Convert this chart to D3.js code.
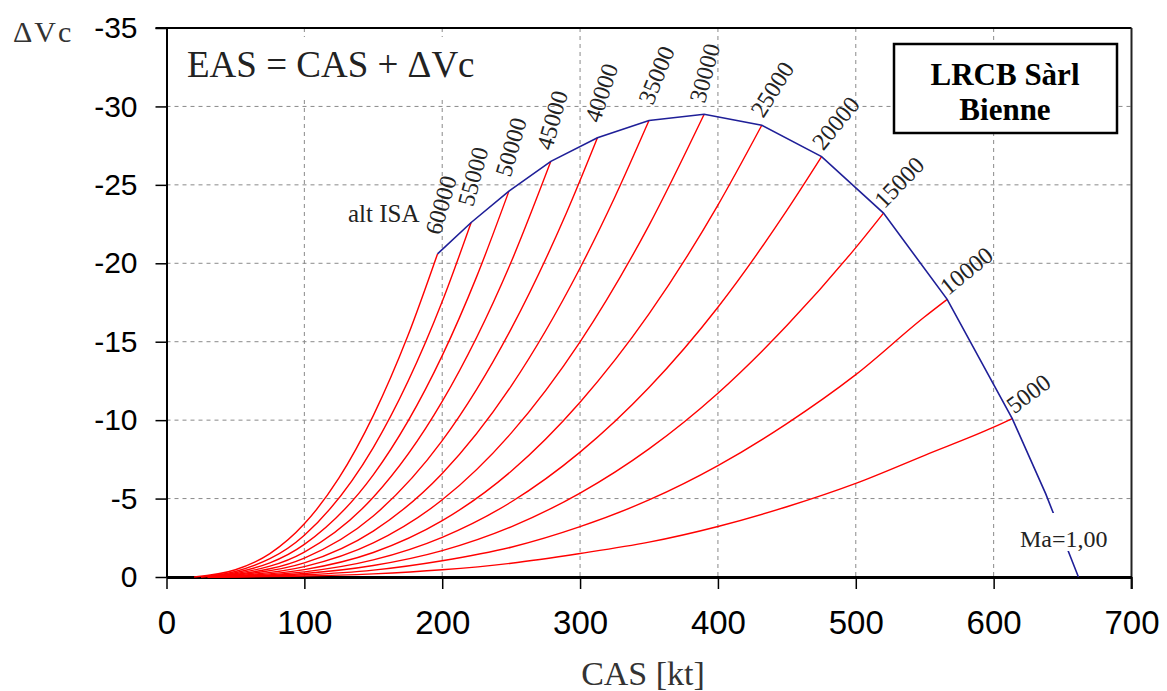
<!DOCTYPE html>
<html>
<head>
<meta charset="utf-8">
<script src="https://cdn.jsdelivr.net/npm/d3@7/dist/d3.min.js"></script>
<style>
  body { margin: 0; background: #fff; }
  svg { display: block; }
</style>
</head>
<body>
<div id="chart"></div>
<script>
// axis ticks
const xTicks = [0, 100, 200, 300, 400, 500, 600, 700];
const yTicks = [0, -5, -10, -15, -20, -25, -30, -35];

// altitude curves (ft ISA): [CAS kt, dVc kt]
const altitudes = [60000, 55000, 50000, 45000, 40000, 35000, 30000, 25000, 20000, 15000, 10000, 5000];
const alt60000 = [[20, 0], [50, -0.46], [75, -1.49], [100, -3.39], [125, -6.3], [150, -10.29], [175, -15.36], [196.6, -20.6]];
const alt55000 = [[25, 0], [50, -0.35], [100, -2.66], [150, -8.25], [200, -17.56], [221.0, -22.6]];
const alt50000 = [[25, 0], [50, -0.27], [100, -2.08], [150, -6.51], [200, -14.11], [225, -19.15], [248.4, -24.6]];
const alt45000 = [[30, 0], [50, -0.21], [100, -1.59], [150, -5.08], [200, -11.19], [250, -20.08], [278.8, -26.5]];
const alt40000 = [[30, 0], [50, -0.16], [100, -1.21], [150, -3.89], [200, -8.69], [250, -15.82], [290, -23.19], [312.6, -28.0]];
const alt35000 = [[30, 0], [50, -0.12], [100, -0.9], [150, -2.93], [200, -6.6], [250, -12.17], [300, -19.7], [325, -24.18], [350.0, -29.1]];
const alt30000 = [[30, 0], [50, -0.08], [100, -0.66], [150, -2.17], [200, -4.92], [250, -9.17], [300, -14.99], [350, -22.42], [390.0, -29.5]];
const alt25000 = [[30, 0], [50, -0.06], [100, -0.47], [150, -1.56], [200, -3.59], [250, -6.74], [300, -11.14], [350, -16.77], [400, -23.71], [431.8, -28.8]];
const alt20000 = [[30, 0], [50, -0.04], [100, -0.33], [150, -1.09], [200, -2.53], [250, -4.78], [300, -7.96], [350, -12.08], [400, -17.2], [450, -23.37], [475.2, -26.8]];
const alt15000 = [[30, 0], [50, -0.03], [100, -0.22], [150, -0.73], [200, -1.68], [250, -3.2], [300, -5.35], [350, -8.17], [400, -11.72], [450, -16.03], [500, -21.0], [520.1, -23.2]];
const alt10000 = [[30, 0], [50, -0.02], [100, -0.14], [150, -0.44], [200, -1.04], [250, -1.9], [300, -3.21], [350, -4.91], [400, -7.1], [450, -9.78], [500, -12.9], [550, -16.59], [566.3, -17.7]];
const alt5000 = [[30, 0], [100, -0.06], [150, -0.2], [200, -0.46], [250, -0.88], [300, -1.5], [350, -2.22], [400, -3.22], [450, -4.48], [500, -5.97], [550, -7.76], [600, -9.55], [613.5, -10.1]];

// Mach 1 boundary
const machOne = [[196.6, -20.6], [221.0, -22.6], [248.4, -24.6], [278.8, -26.5], [312.6, -28.0], [350.0, -29.1], [390.0, -29.5],
  [431.8, -28.8], [475.2, -26.8], [520.1, -23.2], [566.3, -17.7], [613.5, -10.1], [637.8, -5.3], [661.5, 0]];

// label rotation / gap along the label (layout only)
const labelAngles = [-74, -75, -74, -74, -72, -68, -75, -58, -51, -46, -39, -37];
const labelGaps = [18, 15, 13, 10, 14, 15, 10, 6, 5, 3, 3, 4];

const curves = [alt60000, alt55000, alt50000, alt45000, alt40000, alt35000, alt30000, alt25000, alt20000, alt15000, alt10000, alt5000];

const width = 1167;
const height = 691;

const svg = d3.select("#chart").append("svg").attr("width", width).attr("height", height);
svg.append("rect").attr("width", width).attr("height", height).attr("fill", "#fff");

const xScale = d3.scaleLinear().domain([0, 700]).range([166.5, 1131.5]);
const yScale = d3.scaleLinear().domain([0, -35]).range([577, 28]);

const x0 = xScale(0), x1 = xScale(700), yb = yScale(0), yt = yScale(-35);

// grid
svg.append("g")
  .selectAll("line")
  .data(yTicks.filter((d) => d !== 0 && d !== -35))
  .join("line")
  .attr("x1", x0).attr("x2", x1)
  .attr("y1", (d) => yScale(d)).attr("y2", (d) => yScale(d))
  .attr("stroke", "#8a8a8a").attr("stroke-width", 1).attr("stroke-dasharray", "4,4");

svg.append("g")
  .selectAll("line")
  .data(xTicks.filter((d) => d !== 0 && d !== 700))
  .join("line")
  .attr("x1", (d) => xScale(d)).attr("x2", (d) => xScale(d))
  .attr("y1", yt).attr("y2", yb)
  .attr("stroke", "#8a8a8a").attr("stroke-width", 1).attr("stroke-dasharray", "4,4");

// white boxes hiding the grid under the texts
svg.append("rect").attr("x", 180).attr("y", 37).attr("width", 296).attr("height", 60).attr("fill", "#fff");

const line = d3.line()
  .x((d) => xScale(d[0]))
  .y((d) => yScale(d[1]))
  .curve(d3.curveMonotoneX);

// frame
svg.append("line").attr("x1", x0 - 11).attr("x2", x1).attr("y1", yt).attr("y2", yt).attr("stroke", "#000").attr("stroke-width", 2);
svg.append("line").attr("x1", x1).attr("x2", x1).attr("y1", yt).attr("y2", yb + 12).attr("stroke", "#222").attr("stroke-width", 2);

// axes
const yAxis = d3.axisLeft(yScale).tickValues(yTicks).tickSize(11).tickSizeOuter(0).tickPadding(18).tickFormat((d) => d);
const gy = svg.append("g").attr("transform", `translate(${x0},0)`).call(yAxis);
gy.select(".domain").attr("stroke", "#000").attr("stroke-width", 2);
gy.selectAll(".tick line").attr("stroke", "#000").attr("stroke-width", 1.5);
gy.selectAll(".tick text").attr("font-family", "Liberation Sans, Arial, sans-serif").attr("font-size", 30).attr("fill", "#000");

const xAxis = d3.axisBottom(xScale).tickValues(xTicks).tickSize(12).tickSizeOuter(0).tickPadding(22).tickFormat((d) => d);
const gx = svg.append("g").attr("transform", `translate(0,${yb})`).call(xAxis);
gx.select(".domain").attr("stroke", "#000").attr("stroke-width", 3);
gx.selectAll(".tick line").attr("stroke", "#000").attr("stroke-width", 1.5);
gx.selectAll(".tick text").attr("font-family", "Liberation Sans, Arial, sans-serif").attr("font-size", 33).attr("fill", "#000");

// red altitude curves
svg.append("g")
  .selectAll("path")
  .data(curves)
  .join("path")
  .attr("d", line)
  .attr("fill", "none")
  .attr("stroke", "#ff0000")
  .attr("stroke-width", 1.4);

// Mach 1 line
svg.append("path")
  .datum(machOne)
  .attr("d", d3.line().x((d) => xScale(d[0])).y((d) => yScale(d[1])))
  .attr("fill", "none")
  .attr("stroke", "#1f1f98")
  .attr("stroke-width", 1.6);

// altitude labels
svg.append("g")
  .selectAll("text")
  .data(curves)
  .join("text")
  .attr("transform", (d, i) => {
    const end = d[d.length - 1];
    return `translate(${xScale(end[0])},${yScale(end[1])}) rotate(${labelAngles[i]})`;
  })
  .attr("x", (d, i) => labelGaps[i])
  .attr("y", -2)
  .attr("font-family", "Liberation Serif, Times New Roman, serif")
  .attr("font-size", 24)
  .attr("fill", "#222")
  .text((d, i) => altitudes[i]);

// Ma=1,00 label with background
svg.append("rect").attr("x", 1018).attr("y", 513).attr("width", 92).attr("height", 38).attr("fill", "#fff");
svg.append("text").attr("x", 1020).attr("y", 547)
  .attr("font-family", "Liberation Serif, Times New Roman, serif").attr("font-size", 24).attr("fill", "#222")
  .text("Ma=1,00");

svg.append("text").attr("x", 348).attr("y", 222)
  .attr("font-family", "Liberation Serif, Times New Roman, serif").attr("font-size", 25).attr("fill", "#222")
  .text("alt ISA");

// formula
svg.append("text").attr("x", 187).attr("y", 77)
  .attr("font-family", "Liberation Serif, Times New Roman, serif").attr("font-size", 37).attr("fill", "#222")
  .text("EAS = CAS + \u0394Vc");

// axis titles
svg.append("text").attr("x", 13).attr("y", 42)
  .attr("font-family", "Liberation Serif, Times New Roman, serif").attr("font-size", 30).attr("letter-spacing", 2).attr("fill", "#333")
  .text("\u0394Vc");

svg.append("text").attr("x", 643).attr("y", 685).attr("text-anchor", "middle")
  .attr("font-family", "Liberation Serif, Times New Roman, serif").attr("font-size", 34).attr("fill", "#333")
  .text("CAS [kt]");

// company box
svg.append("rect").attr("x", 894).attr("y", 44).attr("width", 223).attr("height", 89)
  .attr("fill", "#fff").attr("stroke", "#000").attr("stroke-width", 2.5);
svg.append("text").attr("x", 1005).attr("y", 85).attr("text-anchor", "middle")
  .attr("font-family", "Liberation Serif, Times New Roman, serif").attr("font-weight", "bold").attr("font-size", 31).attr("fill", "#000")
  .text("LRCB S\u00e0rl");
svg.append("text").attr("x", 1005).attr("y", 120).attr("text-anchor", "middle")
  .attr("font-family", "Liberation Serif, Times New Roman, serif").attr("font-weight", "bold").attr("font-size", 31).attr("fill", "#000")
  .text("Bienne");
</script>
</body>
</html>
